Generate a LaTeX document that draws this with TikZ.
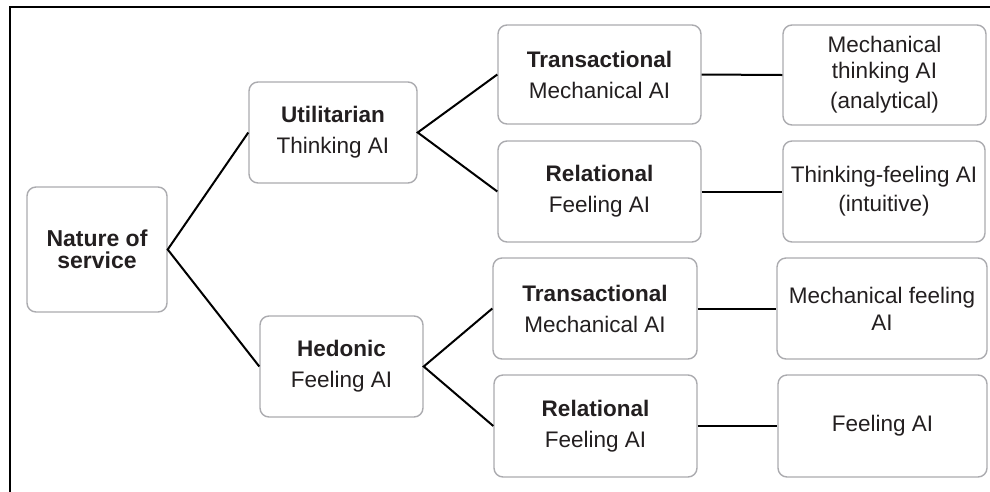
\documentclass[tikz,border=0pt]{standalone}
\usepackage{fontspec}
\setmainfont{Liberation Sans}
\definecolor{txt}{HTML}{231F20}
\definecolor{boxline}{HTML}{ABABAF}
\tikzset{
  box/.style={draw=boxline, line width=1.4pt, rounded corners=9pt, fill=white,
    inner sep=0pt, align=center, text=txt, font=\fontsize{22.5}{31}\selectfont},
  conn/.style={draw=black, line width=2pt},
  frameline/.style={draw=black, line width=2.8pt}
}
\begin{document}
\begin{tikzpicture}[x=1pt,y=-1pt]
\useasboundingbox (0,0) rectangle (990,491);
\coordinate (f2) at (992,7);
\coordinate (f3) at (10,493);
\draw[frameline] (f3) |- (f2);

\node[box, minimum width=140pt, minimum height=125pt, font=\fontsize{23}{21.5}\selectfont] (nat) at (97,249.5) {\textbf{Nature of}\\\textbf{service}};
\node[box, minimum width=168pt, minimum height=101pt] (util) at (333,132.5) {\textbf{Utilitarian}\\Thinking AI};
\node[box, minimum width=163pt, minimum height=101pt] (hed) at (341.5,366.5) {\textbf{Hedonic}\\Feeling AI};
\node[box, minimum width=203pt, minimum height=99pt] (t1) at (599.5,74.5) {\textbf{Transactional}\\Mechanical AI};
\node[box, minimum width=203pt, minimum height=101pt] (r1) at (599.5,191.5) {\textbf{Relational}\\Feeling AI};
\node[box, minimum width=204pt, minimum height=101pt] (t2) at (595,308.5) {\textbf{Transactional}\\Mechanical AI};
\node[box, minimum width=203pt, minimum height=102pt] (r2) at (595.5,426) {\textbf{Relational}\\Feeling AI};
\node[box, minimum width=203pt, minimum height=100pt, font=\fontsize{22.5}{26}\selectfont] (m1) at (884.5,75) {Mechanical\\thinking AI\\[4pt](analytical)};
\node[box, minimum width=202pt, minimum height=101pt, font=\fontsize{22.5}{29}\selectfont] (m2) at (884,191.5) {Thinking-feeling AI\\(intuitive)};
\node[box, minimum width=210pt, minimum height=101pt, font=\fontsize{22.5}{27}\selectfont] (m3) at (882,308.5) {Mechanical feeling\\AI};
\node[box, minimum width=209pt, minimum height=102pt] (m4) at (882.5,426) {Feeling AI};

\draw[conn] (util.west) -- (nat.east) -- (hed.west);
\draw[conn] (t1.west) -- (util.east) -- (r1.west);
\draw[conn] (t2.west) -- (hed.east) -- (r2.west);
\draw[conn] (t1.east) -- (m1.west);
\draw[conn] (r1.east) -- (m2.west);
\draw[conn] (t2.east) -- (m3.west);
\draw[conn] (r2.east) -- (m4.west);
\end{tikzpicture}
\end{document}
